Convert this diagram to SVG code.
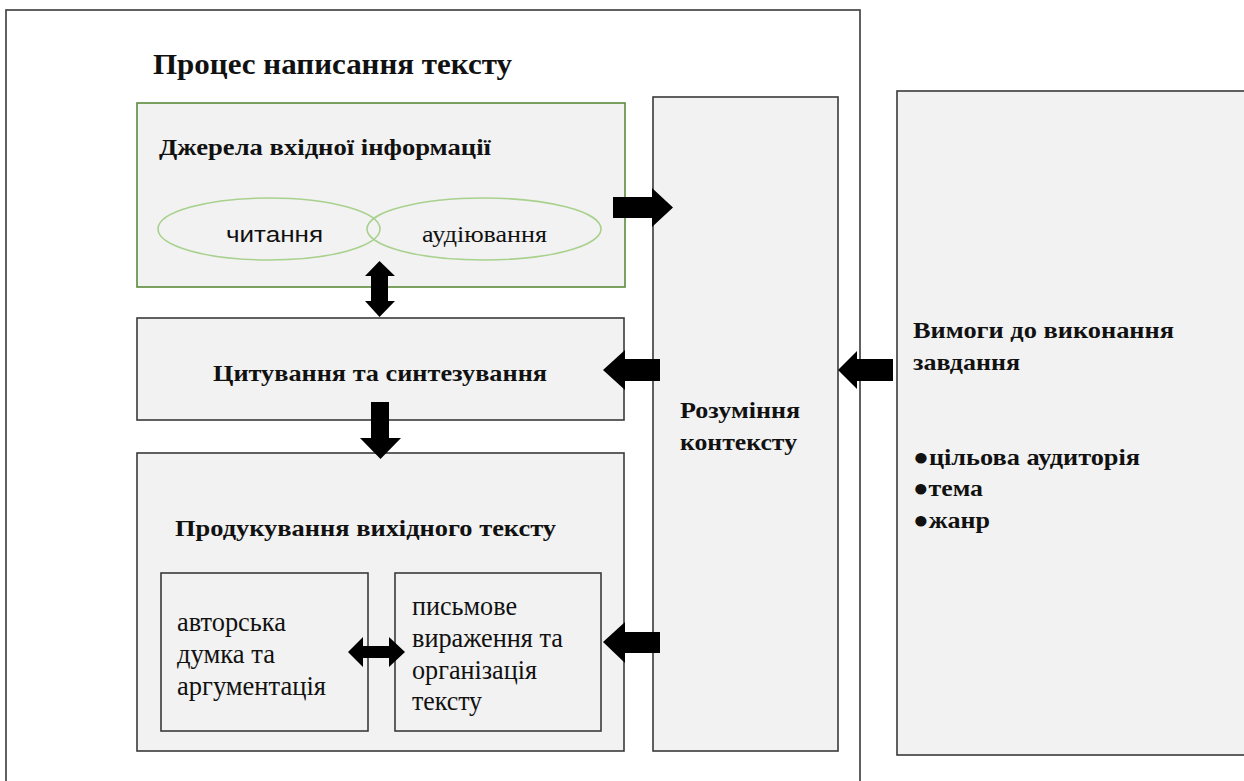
<svg xmlns="http://www.w3.org/2000/svg" width="1244" height="781" viewBox="0 0 1244 781">
<style>
.box{fill:#f2f2f2;stroke:#3a3a3a;stroke-width:1.6}
.gbox{fill:#f2f2f2;stroke:#5b8a3c;stroke-width:1.6}
.ell{fill:none;stroke:#a9d18e;stroke-width:1.6}
.b{font-family:"Liberation Serif","Times New Roman",serif;font-weight:bold;fill:#111}
.r{font-family:"Liberation Serif","Times New Roman",serif;fill:#111}
.s{font-family:"Liberation Sans",Arial,sans-serif;fill:#111}
.arr{fill:#000}
</style>
<rect width="1244" height="781" fill="#fff"/>
<g id="frame">
<rect x="6" y="10" width="854" height="790" fill="#fff" stroke="#3a3a3a" stroke-width="1.6"/>
<text class="b" x="153" y="74" font-size="29" textLength="359" lengthAdjust="spacingAndGlyphs">Процес написання тексту</text>
</g>
<g id="sources">
<rect class="gbox" x="137" y="103" width="488" height="184"/>
<text class="b" x="159" y="155" font-size="24" textLength="332" lengthAdjust="spacingAndGlyphs">Джерела вхідної інформації</text>
<ellipse class="ell" cx="269" cy="229" rx="111" ry="31"/>
<ellipse class="ell" cx="484" cy="229" rx="117" ry="31"/>
<text class="s" x="226" y="242" font-size="22" textLength="97" lengthAdjust="spacingAndGlyphs">читання</text>
<text class="r" x="422" y="242" font-size="24" textLength="125" lengthAdjust="spacingAndGlyphs">аудіювання</text>
</g>
<g id="context">
<rect class="box" x="653" y="97" width="185" height="654"/>
<text class="b" x="680" y="418" font-size="24" textLength="120" lengthAdjust="spacingAndGlyphs">Розуміння</text>
<text class="b" x="680" y="450" font-size="24" textLength="117" lengthAdjust="spacingAndGlyphs">контексту</text>
</g>
<g id="citation">
<rect class="box" x="137" y="318" width="487" height="102"/>
<text class="b" x="213" y="381" font-size="24" textLength="334" lengthAdjust="spacingAndGlyphs">Цитування та синтезування</text>
</g>
<g id="production">
<rect class="box" x="137" y="453" width="487" height="298"/>
<text class="b" x="175" y="536" font-size="24" textLength="381" lengthAdjust="spacingAndGlyphs">Продукування вихідного тексту</text>
</g>
<g id="author">
<rect class="box" x="161" y="573" width="207" height="158"/>
<text class="r" x="177" y="631" font-size="27" textLength="109" lengthAdjust="spacingAndGlyphs">авторська</text>
<text class="r" x="177" y="663" font-size="27" textLength="98" lengthAdjust="spacingAndGlyphs">думка та</text>
<text class="r" x="177" y="695" font-size="27" textLength="149" lengthAdjust="spacingAndGlyphs">аргументація</text>
</g>
<g id="writing">
<rect class="box" x="395" y="573" width="206" height="158"/>
<text class="r" x="412" y="615" font-size="27" textLength="105" lengthAdjust="spacingAndGlyphs">письмове</text>
<text class="r" x="412" y="647" font-size="27" textLength="151" lengthAdjust="spacingAndGlyphs">вираження та</text>
<text class="r" x="412" y="679" font-size="27" textLength="125" lengthAdjust="spacingAndGlyphs">організація</text>
<text class="r" x="412" y="710" font-size="27" textLength="70" lengthAdjust="spacingAndGlyphs">тексту</text>
</g>
<g id="requirements">
<rect class="box" x="897" y="91" width="360" height="664"/>
<text class="b" x="913" y="338" font-size="24" textLength="261" lengthAdjust="spacingAndGlyphs">Вимоги до виконання</text>
<text class="b" x="913" y="370" font-size="24" textLength="107" lengthAdjust="spacingAndGlyphs">завдання</text>
<text class="b" x="913" y="465" font-size="24" textLength="227" lengthAdjust="spacingAndGlyphs">●цільова аудиторія</text>
<text class="b" x="913" y="496" font-size="24" textLength="70" lengthAdjust="spacingAndGlyphs">●тема</text>
<text class="b" x="913" y="528" font-size="24" textLength="77" lengthAdjust="spacingAndGlyphs">●жанр</text>
</g>
<g id="connectors">
<polygon class="arr" points="613,197 652,197 652,188 673,207.5 652,227 652,218 613,218"/>
<polygon class="arr" points="379.5,261 395,276 388,276 388,301 395,301 379.5,317 365,301 371,301 371,276 365,276"/>
<polygon class="arr" points="371,402 389,402 389,438 401,438 380.5,459 360,438 371,438"/>
<polygon class="arr" points="603,370 625,350 625,359 660,359 660,381 625,381 625,390"/>
<polygon class="arr" points="838,370 857,351 857,359 893,359 893,381 857,381 857,389"/>
<polygon class="arr" points="348,652 363,637 363,646 389,646 389,637 405,652 389,667 389,658 363,658 363,667"/>
<polygon class="arr" points="603,642 625,622 625,632 660,632 660,653 625,653 625,663"/>
</g>
</svg>
